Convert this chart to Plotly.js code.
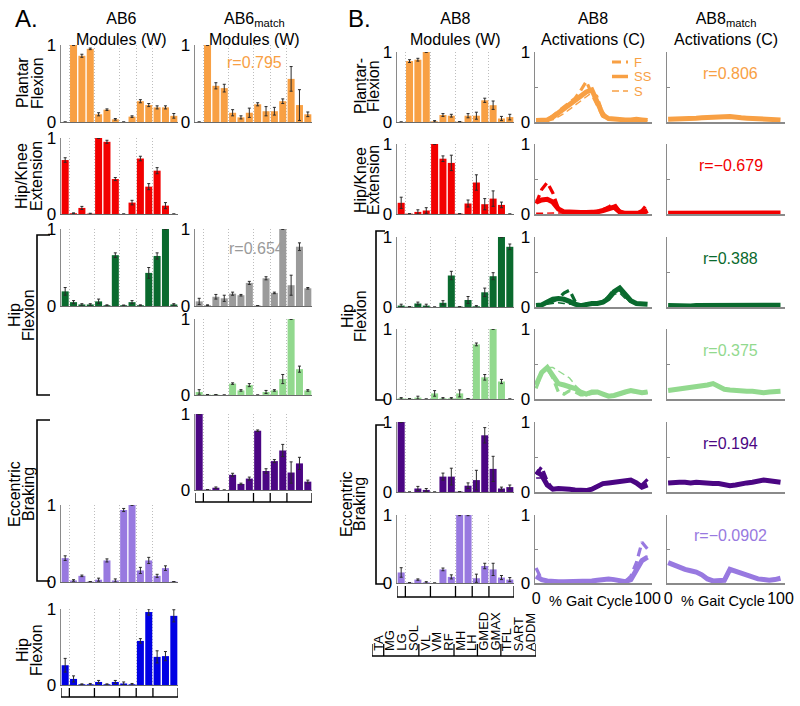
<!DOCTYPE html>
<html><head><meta charset="utf-8">
<script src="https://cdn.plot.ly/plotly-3.0.1.min.js"></script>
<style>html,body{margin:0;padding:0;background:#fff}#chart{width:800px;height:706px}</style>
</head><body><div id="chart"></div>
<script>
// ---------------- data ----------------
const muscles = ['TA','MG','LG','SOL','VL','VM','RF','MH','LH','GMED','GMAX','TFL','SART','ADDM'];
const muscleIdx = [1,2,3,4,5,6,7,8,9,10,11,12,13,14];
const groupBounds = [0.5,1.5,4.5,7.5,9.5,11.5,14.5];

// AB6 modules (W)
const ab6PlantarFlex    = [0, 1.0, 0.86, 0.95, 0.1, 0.16, 0.035, 0, 0.07, 0.27, 0.22, 0.19, 0.19, 0.08];
const ab6PlantarFlexErr = [0, 0.005, 0.02, 0.01, 0.02, 0.01, 0.01, 0, 0.01, 0.02, 0.02, 0.02, 0.02, 0.03];
const ab6HipKneeExt     = [0.71, 0.01, 0.08, 0.005, 1.0, 0.95, 0.46, 0, 0.15, 0.73, 0.36, 0.57, 0.11, 0];
const ab6HipKneeExtErr  = [0.03, 0.005, 0.02, 0.005, 0.005, 0.02, 0.02, 0, 0.03, 0.03, 0.04, 0.04, 0.04, 0];
const ab6HipFlex1       = [0.19, 0.05, 0.02, 0.02, 0.06, 0.01, 0.66, 0.01, 0.05, 0.01, 0.43, 0.65, 1.0, 0.02];
const ab6HipFlex1Err    = [0.05, 0.02, 0.01, 0.01, 0.03, 0.005, 0.03, 0, 0.02, 0.005, 0.07, 0.04, 0.005, 0.01];
const ab6EccBrake       = [0.31, 0.02, 0.08, 0.005, 0.03, 0.28, 0.02, 0.935, 1.0, 0.15, 0.28, 0.08, 0.18, 0.005];
const ab6EccBrakeErr    = [0.03, 0.01, 0.01, 0, 0.02, 0.02, 0.02, 0.02, 0.005, 0.04, 0.04, 0.02, 0.03, 0];
const ab6HipFlex2       = [0.26, 0.08, 0.01, 0.01, 0.04, 0.01, 0.04, 0.02, 0.01, 0.58, 0.96, 0.37, 0.38, 0.91];
const ab6HipFlex2Err    = [0.09, 0.04, 0.005, 0.01, 0.02, 0.005, 0.02, 0.02, 0.01, 0.03, 0.04, 0.08, 0.06, 0.08];

// AB6match modules (W)
const ab6mPlantarFlex    = [0, 1.0, 0.47, 0.44, 0.12, 0.06, 0.12, 0.23, 0.14, 0.14, 0.27, 0.56, 0.22, 0.1];
const ab6mPlantarFlexErr = [0, 0.005, 0.04, 0.05, 0.04, 0.02, 0.06, 0.02, 0.06, 0.05, 0.03, 0.16, 0.2, 0.03];
const ab6mHipFlexA       = [0.06, 0.01, 0.12, 0.1, 0.16, 0.14, 0.3, 0.005, 0.36, 0.17, 1.0, 0.27, 0.77, 0.23];
const ab6mHipFlexAErr    = [0.04, 0.005, 0.03, 0.04, 0.02, 0.01, 0.02, 0, 0.02, 0.01, 0.005, 0.13, 0.05, 0.01];
const ab6mHipFlexB       = [0.04, 0.005, 0.005, 0, 0.15, 0.06, 0.13, 0, 0.04, 0.06, 0.21, 1.0, 0.34, 0.06];
const ab6mHipFlexBErr    = [0.03, 0, 0, 0, 0.01, 0.01, 0.02, 0, 0.02, 0.01, 0.06, 0.005, 0.04, 0.01];
const ab6mEccBrake       = [1.0, 0.005, 0.03, 0, 0.2, 0.08, 0.15, 0.78, 0.25, 0.38, 0.52, 0.23, 0.35, 0.11];
const ab6mEccBrakeErr    = [0.005, 0, 0.01, 0, 0.02, 0.01, 0.02, 0.01, 0.03, 0.02, 0.08, 0.14, 0.08, 0.02];

// AB8 modules (W)
const ab8PlantarFlex    = [0, 0.87, 0.89, 1.0, 0.01, 0.1, 0.09, 0.005, 0.09, 0.09, 0.31, 0.24, 0.05, 0.07];
const ab8PlantarFlexErr = [0, 0.02, 0.02, 0.005, 0.01, 0.02, 0.02, 0, 0.03, 0.05, 0.03, 0.06, 0.03, 0.04];
const ab8HipKneeExt     = [0.16, 0.005, 0.03, 0.05, 1.0, 0.79, 0.73, 0.005, 0.15, 0.45, 0.14, 0.22, 0.13, 0];
const ab8HipKneeExtErr  = [0.08, 0, 0.03, 0.04, 0.005, 0.04, 0.11, 0, 0.05, 0.11, 0.08, 0.11, 0.04, 0];
const ab8HipFlexA       = [0.02, 0.005, 0.05, 0.02, 0, 0.06, 0.45, 0.005, 0.1, 0.01, 0.21, 0.44, 1.0, 0.86];
const ab8HipFlexAErr    = [0.02, 0, 0.02, 0.02, 0, 0.03, 0.06, 0, 0.05, 0.01, 0.06, 0.05, 0.005, 0.04];
const ab8HipFlexB       = [0.01, 0.005, 0.02, 0, 0.08, 0.01, 0.01, 0.08, 0.005, 0.78, 0.31, 1.0, 0.25, 0];
const ab8HipFlexBErr    = [0.01, 0, 0.02, 0, 0.04, 0.01, 0.01, 0.05, 0, 0.02, 0.04, 0.005, 0.03, 0];
const ab8EccBrakeA      = [1.0, 0, 0.05, 0.03, 0, 0.22, 0.22, 0.005, 0.09, 0.17, 0.81, 0.33, 0.05, 0.07];
const ab8EccBrakeAErr   = [0.005, 0, 0.03, 0.02, 0, 0.05, 0.12, 0, 0.04, 0.14, 0.11, 0.18, 0.02, 0.03];
const ab8EccBrakeB      = [0.155, 0.005, 0.05, 0.01, 0, 0.2, 0.09, 1.0, 1.0, 0.07, 0.25, 0.2, 0.08, 0.05];
const ab8EccBrakeBErr   = [0.07, 0, 0.01, 0.01, 0, 0.02, 0.03, 0.01, 0.01, 0.06, 0.04, 0.09, 0.03, 0.03];

// Activations (C), % gait cycle
const pct = [0,5,10,15,20,25,30,35,40,45,50,55,60,65,70,75,80,85,90,95,100];
const actPF_F  = [0.02,0.02,0.03,0.09,0.15,0.21,0.27,0.34,0.45,0.58,0.4,0.25,0.08,0.05,0.04,0.04,0.03,0.03,0.04,0.03,0.02];
const actPF_SS = [0.02,0.02,0.03,0.07,0.13,0.19,0.25,0.3,0.36,0.43,0.46,0.3,0.1,0.05,0.04,0.04,0.03,0.03,0.04,0.03,0.02];
const actPF_S  = [0.01,0.01,0.02,0.03,0.07,0.12,0.18,0.24,0.3,0.36,0.42,0.38,0.15,0.05,0.04,0.03,0.03,0.03,0.03,0.03,0.02];
const matchPF  = [0.04,0.04,0.045,0.05,0.05,0.055,0.06,0.06,0.065,0.07,0.075,0.08,0.065,0.06,0.055,0.05,0.045,0.04,0.035,0.035,0.03];

const actHKE_F  = [0.15,0.35,0.45,0.3,0.08,0.03,0.02,0.02,0.02,0.02,0.03,0.04,0.06,0.1,0.15,0.04,0.01,0.01,0.01,0.05,0.15];
const actHKE_SS = [0.17,0.2,0.21,0.17,0.07,0.03,0.03,0.02,0.02,0.02,0.02,0.03,0.05,0.07,0.1,0.03,0.01,0.01,0.01,0.01,0.05];
const actHKE_S  = [0.01,0.01,0.01,0.01,0.01,0.01,0.01,0.01,0.01,0.02,0.02,0.03,0.04,0.05,0.07,0.03,0.01,0.01,0.01,0.01,0.02];
const matchHKE  = [0.01,0.01,0.01,0.012,0.012,0.012,0.012,0.012,0.012,0.012,0.015,0.015,0.015,0.015,0.012,0.012,0.012,0.012,0.012,0.015,0.015];

const actHFA_F  = [0.02,0.03,0.05,0.08,0.12,0.2,0.24,0.08,0.02,0.04,0.05,0.05,0.07,0.15,0.25,0.25,0.15,0.08,0.05,0.04,0.04];
const actHFA_SS = [0.02,0.03,0.07,0.11,0.12,0.11,0.08,0.04,0.02,0.04,0.05,0.05,0.07,0.12,0.22,0.27,0.18,0.09,0.05,0.04,0.04];
const actHFA_S  = [0.02,0.03,0.05,0.06,0.06,0.05,0.04,0.03,0.02,0.04,0.05,0.05,0.06,0.1,0.18,0.2,0.12,0.07,0.05,0.04,0.04];
const matchHFA  = [0.02,0.015,0.015,0.015,0.015,0.02,0.02,0.02,0.02,0.02,0.02,0.02,0.02,0.025,0.025,0.025,0.025,0.025,0.025,0.025,0.025];

const actHFB_F  = [0.15,0.38,0.45,0.3,0.1,0.07,0.12,0.1,0.06,0.06,0.08,0.09,0.07,0.04,0.05,0.07,0.1,0.11,0.1,0.08,0.1];
const actHFB_SS = [0.2,0.38,0.45,0.32,0.22,0.2,0.18,0.15,0.1,0.07,0.1,0.1,0.07,0.04,0.05,0.08,0.1,0.12,0.1,0.09,0.1];
const actHFB_S  = [0.2,0.35,0.45,0.45,0.4,0.35,0.3,0.2,0.12,0.08,0.08,0.1,0.07,0.04,0.05,0.08,0.1,0.12,0.1,0.08,0.08];
const matchHFB  = [0.12,0.13,0.14,0.16,0.17,0.18,0.19,0.2,0.22,0.17,0.14,0.13,0.12,0.12,0.11,0.11,0.1,0.09,0.1,0.11,0.11];

const actEBA_F  = [0.25,0.36,0.15,0.04,0.05,0.05,0.04,0.03,0.02,0.02,0.04,0.09,0.12,0.13,0.14,0.14,0.15,0.17,0.13,0.1,0.18];
const actEBA_SS = [0.3,0.24,0.1,0.04,0.05,0.05,0.04,0.03,0.02,0.02,0.04,0.09,0.12,0.13,0.14,0.14,0.15,0.17,0.13,0.07,0.1];
const actEBA_S  = [0.2,0.2,0.08,0.04,0.05,0.05,0.04,0.03,0.02,0.02,0.04,0.09,0.12,0.13,0.14,0.14,0.15,0.16,0.12,0.08,0.12];
const matchEBA  = [0.13,0.14,0.14,0.14,0.13,0.14,0.13,0.13,0.12,0.12,0.11,0.09,0.1,0.12,0.13,0.14,0.15,0.17,0.16,0.15,0.14];

const actEBB_F  = [0.22,0.05,0.03,0.02,0.02,0.02,0.02,0.02,0.02,0.02,0.03,0.04,0.05,0.06,0.05,0.03,0.02,0.1,0.3,0.6,0.5];
const actEBB_SS = [0.1,0.05,0.03,0.02,0.02,0.02,0.02,0.02,0.02,0.02,0.03,0.04,0.05,0.06,0.05,0.03,0.02,0.05,0.2,0.33,0.38];
const actEBB_S  = [0.1,0.04,0.03,0.02,0.02,0.02,0.02,0.02,0.02,0.02,0.03,0.04,0.05,0.06,0.05,0.03,0.02,0.04,0.25,0.35,0.4];
const matchEBB  = [0.3,0.26,0.23,0.2,0.18,0.16,0.12,0.06,0.03,0.03,0.04,0.2,0.17,0.14,0.11,0.08,0.06,0.05,0.04,0.05,0.07];

const rValues = ['r=0.806','r=\u22120.679','r=0.388','r=0.375','r=0.194','r=\u22120.0902'];
const legendNames = ['F','SS','S'];

// ---------------- drawing ----------------
const W = 800, H = 706;
const C = {orange:'#F8A044', red:'#F20000', dkgreen:'#0A6A2E', ltgreen:'#92D98E', dkpurple:'#4B0683', ltpurple:'#9879E0', blue:'#0000E4', gray:'#9B9B9B'};
const traces = [], shapes = [], annotations = [];
const FONT = 'Liberation Sans, Arial, Helvetica, sans-serif';
const layout = {width:W, height:H, margin:{l:0,r:0,t:0,b:0}, showlegend:false,
  paper_bgcolor:'#fff', plot_bgcolor:'rgba(0,0,0,0)',
  font:{family:FONT, size:16, color:'#000'}, shapes, annotations};

let nAx = 0;
function newAxes(xpx, ypx, xo, yo){
  nAx++;
  const s = nAx === 1 ? '' : String(nAx);
  layout['xaxis'+s] = Object.assign({domain:[xpx[0]/W, xpx[1]/W], anchor:'y'+s, fixedrange:true}, xo);
  layout['yaxis'+s] = Object.assign({domain:[1-ypx[1]/H, 1-ypx[0]/H], anchor:'x'+s, fixedrange:true}, yo);
  return {x:'x'+s, y:'y'+s};
}
const innerBounds = groupBounds.slice(1, -1);

function barPanel(xpx, ypx, vals, errs, color, groupTickOffset){
  const ax = newAxes(xpx, ypx,
    {range:[0.5,14.5], tickvals:innerBounds, showgrid:true, griddash:'1px,2px', gridcolor:'#bdbdbd', gridwidth:1,
     showticklabels:false, ticks:'', showline:true, linecolor:'#6a6a6a', linewidth:1.2, zeroline:false},
    {range:[0,1], tickvals:[0,1], ticktext:['0','1'], showgrid:false, zeroline:false, showline:true,
     linecolor:'#8a8a8a', linewidth:1.5, ticks:'', tickfont:{size:17}});
  traces.push({type:'bar', x:muscleIdx, y:vals, xaxis:ax.x, yaxis:ax.y, width:0.84,
    marker:{color:color, line:{width:0}}, cliponaxis:false, hoverinfo:'skip',
    error_y:{type:'data', array:errs, visible:true, color:'#2a2a2a', thickness:1, width:1.5}});
  if (groupTickOffset){
    const yl = ypx[1] + groupTickOffset, yt = ypx[1] + 3;
    shapes.push({type:'line', xref:ax.x, yref:'paper', x0:groupBounds[0], x1:groupBounds[groupBounds.length-1],
      y0:1-yl/H, y1:1-yl/H, line:{color:'#000', width:1.3}});
    groupBounds.forEach(b => shapes.push({type:'line', xref:ax.x, yref:'paper', x0:b, x1:b,
      y0:1-yl/H, y1:1-yt/H, line:{color:'#000', width:1.3}}));
  }
  return ax;
}

function actPanel(xpx, ypx, series, color, showY, showX){
  const ax = newAxes(xpx, ypx,
    {range:[-1,104], showgrid:false, zeroline:false, showline:true, linecolor:'#8a8a8a', linewidth:1.5, ticks:'',
     tickvals:[0,100], ticktext:['0','100'], showticklabels:!!showX, tickfont:{size:16}},
    {range:[0,1], tickvals:[0,0.5,1], ticktext: showY ? ['0',' ','1'] : [' ',' ',' '], ticks:'inside', ticklen:3,
     tickcolor:'#8a8a8a', showgrid:false, zeroline:false, showline:true, linecolor:'#8a8a8a', linewidth:1.5, tickfont:{size:17}});
  series.forEach(s => traces.push({type:'scatter', mode:'lines', x:pct, y:s.y, xaxis:ax.x, yaxis:ax.y,
    line:{color:color, width:s.w, dash:s.dash}, cliponaxis:false, hoverinfo:'skip'}));
  return ax;
}

function ann(text, xpx, ypx, o){
  annotations.push(Object.assign({text:text, x:xpx/W, y:1-ypx/H, xref:'paper', yref:'paper', showarrow:false,
    xanchor:'center', yanchor:'middle', font:{size:16, family:FONT, color:'#000'}}, o || {}));
}
function rowLabel(lines, xs, ypx){
  lines.forEach((t, i) => ann(t, xs[i], ypx, {textangle:-90}));
}
function bracket(x0, x1, y0, y1){
  shapes.push({type:'path', xref:'paper', yref:'paper',
    path:`M ${x1/W} ${1-y0/H} L ${x0/W} ${1-y0/H} L ${x0/W} ${1-y1/H} L ${x1/W} ${1-y1/H}`,
    line:{color:'#000', width:1.6}});
}

// column x-extents (px)
const colA1 = [61,178], colA2 = [195,312], colB1 = [397,514], colB2 = [535,652], colB3 = [667,785];
// row y-extents (px)
const rowA = {1:[45,122], 2:[138,214], 3:[229,306], 4:[319,395], 5:[414,490], 6:[505,582], 7:[609,685]};
const rowB = {1:[52,122], 2:[144,214], 3:[237,307], 4:[329,399], 5:[422,492], 6:[515,583]};

// Panel A, column 1 (AB6)
barPanel(colA1, rowA[1], ab6PlantarFlex, ab6PlantarFlexErr, C.orange);
barPanel(colA1, rowA[2], ab6HipKneeExt, ab6HipKneeExtErr, C.red);
barPanel(colA1, rowA[3], ab6HipFlex1, ab6HipFlex1Err, C.dkgreen);
barPanel(colA1, rowA[6], ab6EccBrake, ab6EccBrakeErr, C.ltpurple);
barPanel(colA1, rowA[7], ab6HipFlex2, ab6HipFlex2Err, C.blue, 12);
// Panel A, column 2 (AB6match)
barPanel(colA2, rowA[1], ab6mPlantarFlex, ab6mPlantarFlexErr, C.orange);
barPanel(colA2, rowA[3], ab6mHipFlexA, ab6mHipFlexAErr, C.gray);
barPanel(colA2, rowA[4], ab6mHipFlexB, ab6mHipFlexBErr, C.ltgreen);
barPanel(colA2, rowA[5], ab6mEccBrake, ab6mEccBrakeErr, C.dkpurple, 12);
// Panel B, column 1 (AB8 modules)
const b1 = [
  [ab8PlantarFlex, ab8PlantarFlexErr, C.orange],
  [ab8HipKneeExt, ab8HipKneeExtErr, C.red],
  [ab8HipFlexA, ab8HipFlexAErr, C.dkgreen],
  [ab8HipFlexB, ab8HipFlexBErr, C.ltgreen],
  [ab8EccBrakeA, ab8EccBrakeAErr, C.dkpurple],
  [ab8EccBrakeB, ab8EccBrakeBErr, C.ltpurple]];
b1.forEach((d,i) => barPanel(colB1, rowB[i+1], d[0], d[1], d[2], i === 5 ? 14 : 0));

// Panel B, activations
const acts = [
  [actPF_F, actPF_SS, actPF_S, matchPF, C.orange],
  [actHKE_F, actHKE_SS, actHKE_S, matchHKE, C.red],
  [actHFA_F, actHFA_SS, actHFA_S, matchHFA, C.dkgreen],
  [actHFB_F, actHFB_SS, actHFB_S, matchHFB, C.ltgreen],
  [actEBA_F, actEBA_SS, actEBA_S, matchEBA, C.dkpurple],
  [actEBB_F, actEBB_SS, actEBB_S, matchEBB, C.ltpurple]];
const styleSS = {w:5, dash:'solid'}, styleF = {w:3.2, dash:'9px,5px'}, styleS = {w:1.4, dash:'7px,4px'};
acts.forEach((d,i) => {
  const last = i === 5;
  actPanel(colB2, rowB[i+1], [
    Object.assign({y:d[1]}, styleSS), Object.assign({y:d[0]}, styleF), Object.assign({y:d[2]}, styleS)], d[4], true, last);
  const ax3 = actPanel(colB3, rowB[i+1], [Object.assign({y:d[3]}, styleSS)], d[4], false, last);
  annotations.push({text:rValues[i], xref:ax3.x+' domain', yref:ax3.y+' domain', x:0.54, y:0.7,
    showarrow:false, xanchor:'center', yanchor:'middle', font:{size:16, family:FONT, color:d[4]}});
  if (last){
    ann('% Gait Cycle', (colB2[0]+colB2[1])/2 - 3, 601, {font:{size:14.5, family:FONT, color:'#000'}});
    ann('% Gait Cycle', (colB3[0]+colB3[1])/2 - 3, 601, {font:{size:14.5, family:FONT, color:'#000'}});
  }
});

// r values in panel A
ann('r=0.795', 254, 62, {font:{size:16, family:FONT, color:C.orange}});
ann('r=0.654', 256, 248, {font:{size:16, family:FONT, color:'#9a9a9a'}});

// legend (F / SS / S) in first activation panel
const legStyles = [styleF, styleSS, styleS];
legendNames.forEach((nm, i) => {
  const yy = 62 + i*14.5;
  shapes.push({type:'line', xref:'paper', yref:'paper', x0:612/W, x1:628/W, y0:1-yy/H, y1:1-yy/H,
    line:{color:C.orange, width:legStyles[i].w === 5 ? 3.5 : legStyles[i].w, dash:legStyles[i].dash}});
  ann(nm, 632, yy, {xanchor:'left', font:{size:13, family:FONT, color:C.orange}});
});

// column titles
ann('AB6<br>Modules (W)', 121, 29);
ann('AB6<sub>match</sub><br>Modules (W)', 255, 29);
ann('AB8<br>Modules (W)', 456, 29);
ann('AB8<br>Activations (C)', 593, 29);
ann('AB8<sub>match</sub><br>Activations (C)', 726, 29);
ann('A.', 26, 19, {font:{size:24, family:FONT, color:'#000'}});
ann('B.', 359, 19, {font:{size:24, family:FONT, color:'#000'}});

// row labels (one annotation per line)
rowLabel(['Plantar','Flexion'], [22,37], 83);
rowLabel(['Hip/Knee','Extension'], [22,37], 176);
rowLabel(['Hip','Flexion'], [14,28], 315);
rowLabel(['Eccentric','Braking'], [14,28], 494);
rowLabel(['Hip','Flexion'], [22,36], 650);
rowLabel(['Plantar-','Flexion'], [360,373], 86);
rowLabel(['Hip/Knee','Extension'], [360,373], 180);
rowLabel(['Hip','Flexion'], [347,360], 316);
rowLabel(['Eccentric','Braking'], [347,360], 504);
bracket(37, 50, 235, 395);
bracket(37, 50, 420, 581);
bracket(376, 385, 231, 400);
bracket(376, 385, 425, 584);

// muscle name key (own hidden axis so names sit on a category scale)
const keyAx = newAxes([372,536], [620,655],
  {range:[0.5,14.5], visible:false}, {range:[0,1], visible:false});
traces.push({type:'scatter', x:[], y:[], xaxis:keyAx.x, yaxis:keyAx.y, hoverinfo:'skip'});
muscles.forEach((m, i) => annotations.push({text:m, xref:keyAx.x, yref:'paper', x:muscleIdx[i], y:1-653/H,
  textangle:-90, showarrow:false, xanchor:'center', yanchor:'bottom', font:{size:13, family:FONT, color:'#000'}}));
shapes.push({type:'line', xref:keyAx.x, yref:'paper', x0:groupBounds[0], x1:groupBounds[groupBounds.length-1],
  y0:1-656/H, y1:1-656/H, line:{color:'#000', width:1.3}});
groupBounds.forEach(b => shapes.push({type:'line', xref:keyAx.x, yref:'paper', x0:b, x1:b,
  y0:1-656/H, y1:1-644/H, line:{color:'#000', width:1.3}}));

Plotly.newPlot('chart', traces, layout, {staticPlot:true, displayModeBar:false});
</script>
</body></html>
